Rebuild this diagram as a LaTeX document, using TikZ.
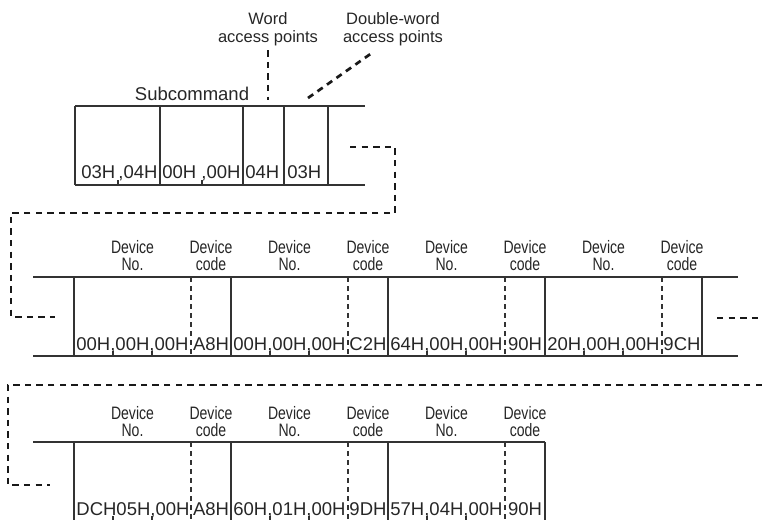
\documentclass[tikz,border=0pt]{standalone}
\usepackage{fontspec}
\setmainfont{Liberation Sans}
\newfontfamily\narrowsf[FakeStretch=0.78]{Liberation Sans}
\usetikzlibrary{positioning, calc}

\begin{document}
\begin{tikzpicture}[
    x=0.5pt, y=-0.5pt,
    frame/.style={draw=black!80, line width=0.65pt},
    divider/.style={draw=black!80, line width=0.55pt, dash pattern=on 2.5pt off 2pt},
    link/.style={draw=black!90, line width=1.35pt, dash pattern=on 3.2pt off 2.6pt},
    cell/.style={anchor=base west, inner sep=0pt, text=black!85, font=\fontsize{9.25}{11}\selectfont},
    caption/.style={anchor=base, inner sep=0pt, text=black!85, font=\fontsize{9.25}{11}\selectfont},
    note/.style={anchor=north, inner sep=0pt, align=center, text=black!85, font=\fontsize{8.25}{9}\selectfont},
    devlabel/.style={anchor=north, inner sep=0pt, align=center, text=black!85, font=\narrowsf\fontsize{9}{8.5}\selectfont}
]
\useasboundingbox (0,0) rectangle (762,520);

% Row 1: subcommand block
\draw[frame] (75,106) -- (365,106) (75,185) -- (365,185);
\foreach \x in {75,160,243,284,328} \draw[frame] (\x,106) -- (\x,185);
\foreach \x in {118,202} \draw[frame] (\x,180) -- (\x,185);

\node[cell] (sub1) at (81,178) {03H};
\node[cell] (sub2) at (118,178) {,04H};
\node[cell] (sub3) at (162,178) {00H};
\node[cell] (sub4) at (201,178) {,00H};
\node[cell] (wpts) at (245,178) {04H};
\node[cell] (dwpts) at (287,178) {03H};

\node[caption] (subcmd) at (192,100) {Subcommand};
\node[note] (wordlbl) at (268,12) {Word\\access points};
\node[note] (dwordlbl) at (393,12) {Double-word\\access points};

\coordinate (wordtip) at (268,100);
\coordinate (dwordtip) at (308,98);
\draw[link] ([yshift=-2pt]wordlbl.south) -- (wordtip);
\draw[link] (dwordtip) -- ([xshift=-10pt,yshift=-3pt]dwordlbl.south);

% Row 2: first device points
\draw[frame] (33,277) -- (738,277) (33,356) -- (738,356);
\foreach \i/\num/\code in {0/{00H,00H,00H}/A8H, 1/{00H,00H,00H}/C2H, 2/{64H,00H,00H}/90H, 3/{20H,00H,00H}/9CH} {
    \pgfmathsetmacro\gx{74+157*\i}
    \draw[frame] (\gx,277) -- (\gx,356);
    \draw[divider] (\gx+117,277) -- (\gx+117,356);
    \draw[frame] (\gx+39,351) -- (\gx+39,356) (\gx+78,351) -- (\gx+78,356);
    \node[cell] (mno\i) at (\gx+2,350) {\num};
    \node[caption] (mcode\i) at (\gx+137,350) {\code};
    \node[devlabel] (mnolbl\i) at (\gx+58.5,240) {Device\\No.};
    \node[devlabel] (mcodelbl\i) at (\gx+137,240) {Device\\code};
}
\draw[frame] (702,277) -- (702,356);

% Row 3: remaining device points
\draw[frame] (33,442) -- (545,442);
\foreach \i/\num/\code in {0/{DCH05H,00H}/A8H, 1/{60H,01H,00H}/9DH, 2/{57H,04H,00H}/90H} {
    \pgfmathsetmacro\gx{74+157*\i}
    \draw[frame] (\gx,442) -- (\gx,521);
    \draw[divider] (\gx+117,442) -- (\gx+117,521);
    \draw[frame] (\gx+39,516) -- (\gx+39,521) (\gx+78,516) -- (\gx+78,521);
    \node[cell] (lno\i) at (\gx+2,515) {\num};
    \node[caption] (lcode\i) at (\gx+137,515) {\code};
    \node[devlabel] (lnolbl\i) at (\gx+58.5,406) {Device\\No.};
    \node[devlabel] (lcodelbl\i) at (\gx+137,406) {Device\\code};
}
\draw[frame] (545,442) -- (545,521);

% Dashed continuation links
\coordinate (subend) at (350,147);
\coordinate (rowAin) at (55,317);
\coordinate (rowAout) at (717,318);
\coordinate (rowAedge) at (762,318);
\coordinate (rowBedge) at (762,385);
\coordinate (rowBin) at (50,485);
\draw[link] (subend) -- ++(45,0) |- (11,213) |- (rowAin);
\draw[link] (rowAout) -- (rowAedge);
\draw[link] (rowBedge) -- (8,385) |- (rowBin);

\end{tikzpicture}
\end{document}
